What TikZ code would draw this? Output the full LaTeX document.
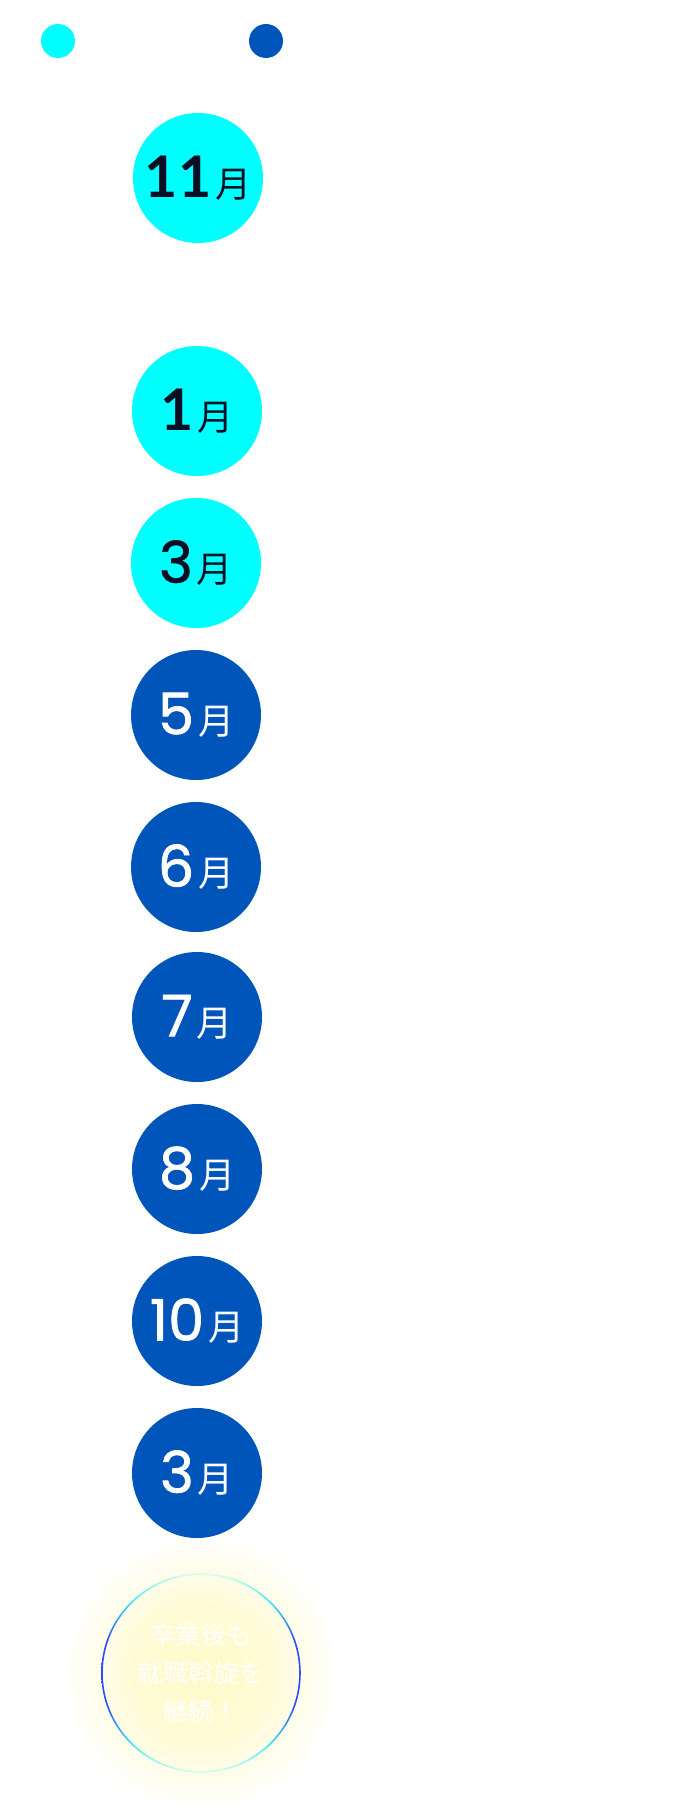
\documentclass[tikz,border=0pt]{standalone}
\usepackage{fontspec}
\newfontfamily\cjk{Noto Sans CJK JP}
\newfontfamily\digits[UprightFeatures={FakeBold=1.2}]{Poppins}
\newfontfamily\digitsbold{Lato}
\usepackage{tikz}
\usetikzlibrary{positioning}
\definecolor{monthcyan}{HTML}{00FFFF}
\definecolor{monthblue}{HTML}{0055BB}
\definecolor{inkdark}{HTML}{0A0F24}
\definecolor{ringblue}{HTML}{2B4CFF}
\definecolor{ringcyan}{HTML}{3FE8FF}
\definecolor{ringmint}{HTML}{D8FFEE}
\definecolor{glowyellow}{HTML}{FFFAC8}
\pgfdeclareradialshading{goalglow}{\pgfpoint{0bp}{0bp}}{color(0bp)=(glowyellow); color(12bp)=(glowyellow!75!white); color(25bp)=(white); color(50bp)=(white)}
\pgfdeclarehorizontalshading{goalring}{100bp}{color(0bp)=(ringmint); color(25bp)=(ringmint); color(32bp)=(ringcyan); color(42bp)=(ringblue); color(58bp)=(ringblue); color(68bp)=(ringcyan); color(75bp)=(ringmint); color(100bp)=(ringmint)}
\newcommand{\mon}[1]{{\digits #1}\kern3pt{\cjk\fontsize{27}{27}\selectfont 月}}
\newcommand{\monbold}[1]{{\digitsbold\bfseries #1}\kern3pt{\cjk\fontsize{27}{27}\selectfont 月}}

\begin{document}
\begin{tikzpicture}[x=0.75pt, y=-0.75pt,
  every node/.style={circle, minimum size=97.5pt, inner sep=0pt, font=\fontsize{43}{43}\selectfont},
  early/.style={fill=monthcyan, text=inkdark},
  late/.style={fill=monthblue, text=white},
  legend/.style={circle, minimum size=25.5pt}]
  \useasboundingbox (0,0) rectangle (686,1820);
  % goal glow, behind everything
  \coordinate (goalc) at (201,1673);
  \shade[shading=goalglow] (goalc) circle (140);
  % legend dots
  \node[legend, fill=monthcyan] (dotcyan) at (58,41) {};
  \node[legend, fill=monthblue] (dotblue) at (266,41) {};
  % months
  \node[early] (m11) at (198,178) {\monbold{11}};
  \node[early] (m1) at (197,411) {\monbold{1}};
  \node[early] (m3a) at (196,563) {\mon{3}};
  \node[late] (m5) at (196,715) {\mon{5}};
  \node[late] (m6) at (196,867) {\mon{6}};
  \node[late] (m7) at (197,1017) {\mon{7}};
  \node[late] (m8) at (197,1169) {\mon{8}};
  \node[late] (m10) at (197,1321) {\mon{10}};
  \node[late] (m3b) at (197,1473) {\mon{3}};
  % goal
  \shade[shading=goalring, shading angle=90, even odd rule] (goalc) circle (99.8) (goalc) circle (98.2);
  \node[text=white, align=center, font=\cjk\fontsize{19}{28.5}\selectfont] (goal) at (goalc) {卒業後も\\就職斡旋を\\継続！};
\end{tikzpicture}
\end{document}
